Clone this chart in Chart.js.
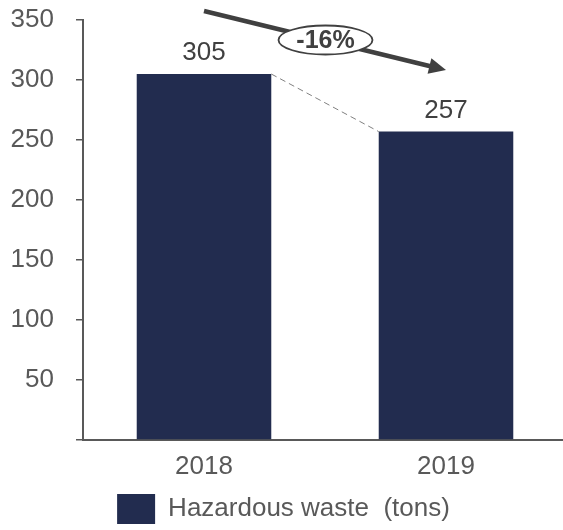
<!DOCTYPE html>
<html>
<head>
<meta charset="utf-8">
<script src="https://cdn.jsdelivr.net/npm/chart.js@4/dist/chart.umd.min.js"></script>
<style>
  html, body { margin: 0; padding: 0; background: #fff; overflow: hidden; }
  #wrap { width: 563px; height: 530px; overflow: hidden; }
</style>
</head>
<body>
<div id="wrap"><canvas id="c" width="567" height="530"></canvas></div>
<script>
const categories = ['2018', '2019'];
const wasteValues = [305, 257];
const seriesLabel = 'Hazardous waste  (tons)';
const changeLabel = '-16%';
const yTicks = [50, 100, 150, 200, 250, 300, 350];

const FONT = '"Liberation Sans", Arial, sans-serif';
const BAR = '#222c4f';
const GREY = '#595959';
const DARK = '#404040';

const annotate = {
  id: 'annotate',
  afterDatasetsDraw(chart) {
    const ctx = chart.ctx;
    const meta = chart.getDatasetMeta(0);
    const b0 = meta.data[0], b1 = meta.data[1];
    const ds = chart.data.datasets[0].data;
    ctx.save();
    // value labels
    ctx.fillStyle = DARK;
    ctx.font = '26px ' + FONT;
    ctx.textAlign = 'center';
    ctx.textBaseline = 'alphabetic';
    meta.data.forEach((bar, i) => {
      ctx.fillText(String(ds[i]), bar.x, bar.y - 14);
    });
    // dashed connector
    const w0 = b0.width / 2, w1 = b1.width / 2;
    ctx.strokeStyle = '#808080';
    ctx.lineWidth = 1;
    ctx.setLineDash([6, 4]);
    ctx.beginPath();
    ctx.moveTo(b0.x + w0, b0.y);
    ctx.lineTo(b1.x - w1, b1.y);
    ctx.stroke();
    ctx.setLineDash([]);
    // trend arrow
    const top = chart.chartArea.top;
    const x1 = b0.x, y1 = top - 9;
    const x2 = b1.x, y2 = b0.y - 4;
    const ang = Math.atan2(y2 - y1, x2 - x1);
    const headLen = 17, headHalf = 8;
    const bx = x2 - headLen * Math.cos(ang), by = y2 - headLen * Math.sin(ang);
    ctx.strokeStyle = DARK;
    ctx.fillStyle = DARK;
    ctx.lineWidth = 4.5;
    ctx.beginPath();
    ctx.moveTo(x1, y1);
    ctx.lineTo(bx + 2 * Math.cos(ang), by + 2 * Math.sin(ang));
    ctx.stroke();
    ctx.beginPath();
    ctx.moveTo(x2, y2);
    ctx.lineTo(bx + headHalf * Math.sin(ang), by - headHalf * Math.cos(ang));
    ctx.lineTo(bx - headHalf * Math.sin(ang), by + headHalf * Math.cos(ang));
    ctx.closePath();
    ctx.fill();
    // ellipse label
    const cx = (x1 + x2) / 2 + 0.5, cy = (y1 + y2) / 2 - 0.5;
    ctx.beginPath();
    ctx.ellipse(cx, cy, 47, 14.5, 0, 0, Math.PI * 2);
    ctx.fillStyle = '#ffffff';
    ctx.fill();
    ctx.lineWidth = 1.8;
    ctx.strokeStyle = DARK;
    ctx.stroke();
    ctx.fillStyle = DARK;
    ctx.font = 'bold 25px ' + FONT;
    ctx.textAlign = 'center';
    ctx.textBaseline = 'middle';
    ctx.fillText(changeLabel, cx, cy + 1);
    ctx.restore();
  }
};

new Chart(document.getElementById('c'), {
  type: 'bar',
  data: {
    labels: categories,
    datasets: [{
      label: seriesLabel,
      data: wasteValues,
      backgroundColor: BAR,
      borderWidth: 0,
      categoryPercentage: 1,
      barPercentage: 0.556
    }]
  },
  options: {
    responsive: false,
    animation: false,
    layout: { padding: { top: 20, right: 0, left: 0, bottom: -4 } },
    plugins: {
      tooltip: { enabled: false },
      legend: {
        position: 'bottom',
        align: 'center',
        labels: {
          boxWidth: 38,
          boxHeight: 30,
          padding: 10,
          color: GREY,
          font: { family: FONT, size: 26 }
        }
      }
    },
    scales: {
      x: {
        grid: { drawOnChartArea: false, drawTicks: false },
        border: { display: true, color: GREY, width: 2 },
        ticks: { color: GREY, font: { family: FONT, size: 26 }, padding: 11 },
        afterFit(s) { s.height = 44; }
      },
      y: {
        min: 0,
        max: 350,
        afterBuildTicks(s) { s.ticks = [0].concat(yTicks).map(v => ({ value: v })); },
        grid: { drawOnChartArea: false, drawTicks: true, tickLength: 7, color: GREY, lineWidth: 1.5 },
        border: { display: true, color: GREY, width: 2 },
        ticks: {
          color: GREY,
          font: { family: FONT, size: 26 },
          padding: 22,
          callback: (v) => (v === 0 ? '' : String(v))
        },
        afterFit(s) { s.width = 83; s.paddingTop = 0; s.paddingBottom = 0; }
      }
    }
  },
  plugins: [annotate]
});
</script>
</body>
</html>
